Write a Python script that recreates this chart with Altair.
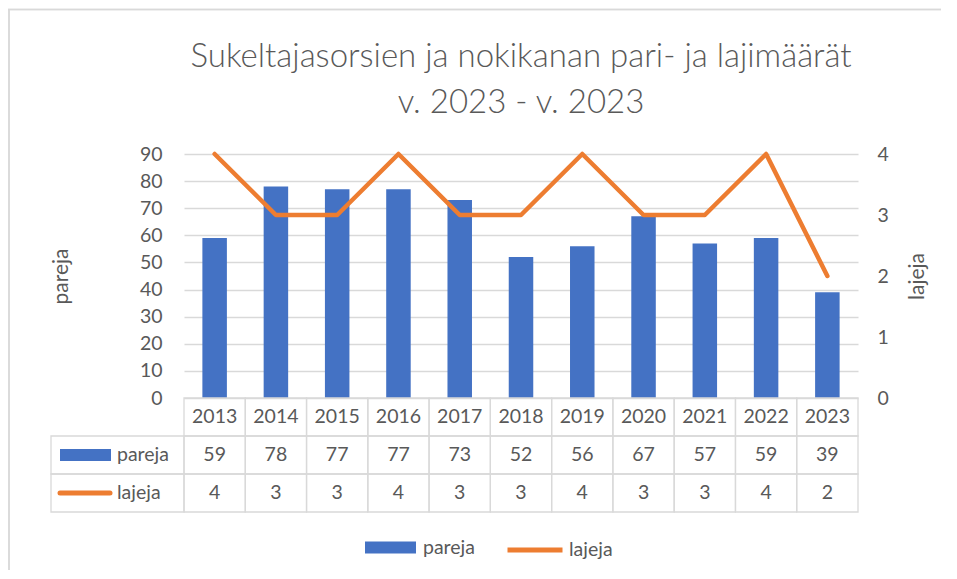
import altair as alt
import pandas as pd

years = ['2013', '2014', '2015', '2016', '2017', '2018', '2019', '2020', '2021', '2022', '2023']
pareja = [59, 78, 77, 77, 73, 52, 56, 67, 57, 59, 39]
lajeja = [4, 3, 3, 4, 3, 3, 4, 3, 3, 4, 2]
title_lines = ['Sukeltajasorsien ja nokikanan pari- ja lajimäärät', 'v. 2023 - v. 2023']
row_names = ['vuosi', 'pareja', 'lajeja']
left_ticks = [0, 10, 20, 30, 40, 50, 60, 70, 80, 90]
right_ticks = [0, 1, 2, 3, 4]

FONT = 'Lato'
GREY = '#595959'
GRID = '#D9D9D9'
BLUE = '#4472C4'
ORANGE = '#ED7D31'
W, H = 674, 244
FS = 19.5

df = pd.DataFrame({'year': years, 'pareja': pareja, 'lajeja': lajeja})
df['s1'] = 'pareja'
df['s2'] = 'lajeja'

cells = pd.DataFrame([{'year': y, 'row': r} for r in row_names for y in years])
texts = pd.DataFrame(
    [{'year': y, 'row': 'vuosi', 'label': y} for y in years]
    + [{'year': y, 'row': 'pareja', 'label': str(v)} for y, v in zip(years, pareja)]
    + [{'year': y, 'row': 'lajeja', 'label': str(v)} for y, v in zip(years, lajeja)]
)
side = pd.DataFrame({'row': ['pareja', 'lajeja'], 'label': ['pareja', 'lajeja']})


def x_main():
    return alt.X('year:N', sort=years, axis=None,
                 scale=alt.Scale(type='band', domain=years, paddingInner=0.6, paddingOuter=0.3))


def x_tab():
    return alt.X('year:N', sort=years, axis=None,
                 scale=alt.Scale(type='band', domain=years, paddingInner=0, paddingOuter=0))


def y_tab():
    return alt.Y('row:N', axis=None,
                 scale=alt.Scale(type='band', domain=row_names, range=[H, H + 114],
                                 paddingInner=0, paddingOuter=0))


bars = alt.Chart(df).mark_bar().encode(
    x=x_main(),
    y=alt.Y('pareja:Q', scale=alt.Scale(domain=[0, 90], nice=False),
            axis=alt.Axis(values=left_ticks, title='pareja', grid=True, gridColor=GRID, gridWidth=1.3,
                          domain=False, ticks=False, labelPadding=22, labelFontSize=FS,
                          labelColor=GREY, labelFont=FONT, titleFont=FONT, titleFontSize=21,
                          titleFontWeight='normal', titleColor=GREY, titleX=-123, titleY=122,
                          titleAngle=-90, titleBaseline='middle', titleAlign='center')),
    color=alt.Color('s1:N', scale=alt.Scale(domain=['pareja'], range=[BLUE]),
                    legend=alt.Legend(orient='none', legendX=181, legendY=368, title=None,
                                      symbolType='M-1,-0.24H1V0.24H-1Z', symbolSize=2601,
                                      symbolStrokeWidth=0, labelFontSize=FS, labelFont=FONT,
                                      labelColor=GREY, labelOffset=7, padding=0)),
)

line = alt.Chart(df).mark_line(strokeWidth=4.5, strokeCap='round', strokeJoin='round').encode(
    x=x_main(),
    y=alt.Y('lajeja:Q', scale=alt.Scale(domain=[0, 4], nice=False),
            axis=alt.Axis(orient='right', values=right_ticks, title='lajeja', grid=False,
                          domain=False, ticks=False, labelPadding=19, labelFontSize=FS,
                          labelColor=GREY, labelFont=FONT, titleFont=FONT, titleFontSize=21,
                          titleFontWeight='normal', titleColor=GREY, titleX=59, titleY=122,
                          titleAngle=-90, titleBaseline='middle', titleAlign='center')),
    stroke=alt.Stroke('s2:N', scale=alt.Scale(domain=['lajeja'], range=[ORANGE]),
                      legend=alt.Legend(orient='none', legendX=321, legendY=366, title=None,
                                        symbolType='stroke', symbolSize=3025,
                                        symbolStrokeWidth=5, labelFontSize=FS, labelFont=FONT,
                                        labelColor=GREY, labelOffset=4, padding=0)),
)

grid_cells = alt.Chart(cells).mark_rect(fillOpacity=0, stroke=GRID, strokeWidth=1.3).encode(
    x=x_tab(), y=y_tab())

side_cells = alt.Chart(side).mark_rect(fillOpacity=0, stroke=GRID, strokeWidth=1.3).encode(
    x=alt.value(-133), x2=alt.value(0), y=y_tab())

cell_text = alt.Chart(texts).mark_text(font=FONT, fontSize=FS, color=GREY, baseline='middle').encode(
    x=x_tab(), y=y_tab(), text='label:N')

side_text = alt.Chart(side).mark_text(font=FONT, fontSize=FS, color=GREY, baseline='middle',
                                      align='left').encode(
    x=alt.value(-67), y=y_tab(), text='label:N')

key_bar = alt.Chart(side).transform_filter(alt.datum.row == 'pareja').mark_rule(
    color=BLUE, strokeWidth=12, strokeCap='butt').encode(
    x=alt.value(-124), x2=alt.value(-73), y=y_tab())

key_line = alt.Chart(side).transform_filter(alt.datum.row == 'lajeja').mark_rule(
    color=ORANGE, strokeWidth=5, strokeCap='round').encode(
    x=alt.value(-124), x2=alt.value(-74), y=y_tab())

frame_top = alt.Chart(side).mark_rule(color=GRID, strokeWidth=1.5).encode(
    x=alt.value(-176), x2=alt.value(780), y=alt.value(-144.5))
frame_left = alt.Chart(side).mark_rule(color=GRID, strokeWidth=1.5).encode(
    x=alt.value(-175), y=alt.value(-144.5), y2=alt.value(420))

chart = alt.layer(
    frame_top, frame_left, bars, line, grid_cells, side_cells, cell_text, side_text, key_bar, key_line
).resolve_scale(
    x='independent', y='independent'
).properties(
    width=W, height=H,
    autosize=alt.AutoSizeParams(type='none'),
    padding={'left': 176, 'top': 146, 'right': 83, 'bottom': 172},
    title=alt.TitleParams(text=title_lines, font=FONT, fontSize=33, fontWeight=300, color=GREY,
                          anchor='middle', frame='group', lineHeight=46, offset=-137,
                          baseline='alphabetic'),
).configure_view(stroke='transparent')

chart.save('out.html', embed_options={'renderer': 'svg', 'actions': False})
